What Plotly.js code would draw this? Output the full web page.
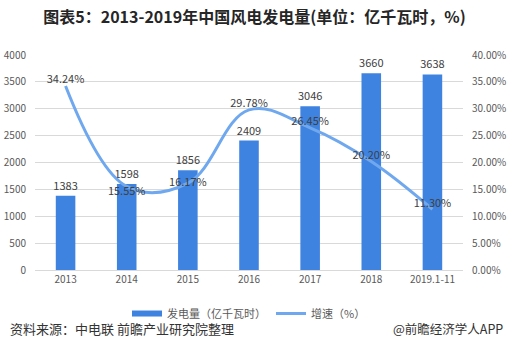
<!DOCTYPE html>
<html>
<head>
<meta charset="utf-8">
<script src="https://cdn.plot.ly/plotly-3.0.1.min.js"></script>
<style>html,body{margin:0;padding:0;background:#fff;}#chart{width:509px;height:353px;}</style>
</head>
<body>
<div id="chart"></div>
<script>
const categories = ['2013','2014','2015','2016','2017','2018','2019.1-11'];
const generation = [1383, 1598, 1856, 2409, 3046, 3660, 3638];
const growth = [0.3424, 0.1555, 0.1617, 0.2978, 0.2645, 0.2020, 0.1130];
const growthLabels = ['34.24%','15.55%','16.17%','29.78%','26.45%','20.20%','11.30%'];
const growthLabelPos = ['top center','bottom center','middle center','top center','top center','top center','top center'];

const FONT = '"Noto Sans CJK SC", "Noto Sans", sans-serif';
const BAR_COLOR = '#3f83e0';

const traces = [
  {
    type: 'bar', name: '发电量（亿千瓦时）', x: categories, y: generation,
    marker: {color: BAR_COLOR}, showlegend: false,
    text: generation.map(String), textposition: 'outside', cliponaxis: false, constraintext: 'none',
    textfont: {size: 11, color: '#404040', family: FONT}
  },
  {
    // legend-only entry that gives the bar series a wide, flat swatch
    type: 'scatter', mode: 'lines', name: '发电量（亿千瓦时）', x: [null], y: [null],
    line: {color: BAR_COLOR, width: 6}, hoverinfo: 'skip'
  },
  {
    type: 'scatter', mode: 'lines+text', name: '增速（%）', x: categories, y: growth, yaxis: 'y2',
    line: {color: '#6fa8ee', width: 3, shape: 'spline', smoothing: 1.1},
    text: growthLabels, textposition: growthLabelPos, cliponaxis: false,
    textfont: {size: 11, color: '#404040', family: FONT}
  }
];

const layout = {
  width: 509, height: 353,
  margin: {l: 35, r: 46, t: 55, b: 83},
  paper_bgcolor: '#fff', plot_bgcolor: '#fff',
  font: {family: FONT, color: '#595959', size: 10},
  title: {text: '<b>图表5：2013-2019年中国风电发电量(单位：亿千瓦时，%)</b>', x: 0.5, xanchor: 'center', y: 0.95, yanchor: 'middle',
          font: {size: 16, color: '#262626', family: FONT}},
  bargap: 0.68,
  showlegend: true,
  legend: {orientation: 'h', x: 0.5, xanchor: 'center', y: -0.135, yanchor: 'top',
           font: {size: 11, color: '#595959', family: FONT}, traceorder: 'normal'},
  xaxis: {type: 'category', showgrid: false, showline: true, linecolor: '#d9d9d9', linewidth: 1,
          ticks: '', tickfont: {size: 10, color: '#595959'}},
  yaxis: {range: [0, 4000], dtick: 500, showgrid: true, gridcolor: '#d9d9d9', zeroline: false,
          ticks: '', tickfont: {size: 10, color: '#595959'}, ticklabelstandoff: 8},
  yaxis2: {range: [0, 0.40], dtick: 0.05, tickformat: '.2%', overlaying: 'y', side: 'right',
           showgrid: false, zeroline: false, ticks: '', tickfont: {size: 10, color: '#595959'}, ticklabelstandoff: 8},
  annotations: [
    {text: '资料来源：中电联 前瞻产业研究院整理', xref: 'paper', yref: 'paper', x: -0.063, y: -0.27, xanchor: 'left', yanchor: 'middle',
     showarrow: false, font: {size: 13, color: '#333', family: FONT}},
    {text: '@前瞻经济学人APP', xref: 'paper', yref: 'paper', x: 1.098, y: -0.27, xanchor: 'right', yanchor: 'middle',
     showarrow: false, font: {size: 12.5, color: '#333', family: FONT}}
  ]
};

Plotly.newPlot('chart', traces, layout, {displayModeBar: false, staticPlot: true});
</script>
</body>
</html>
